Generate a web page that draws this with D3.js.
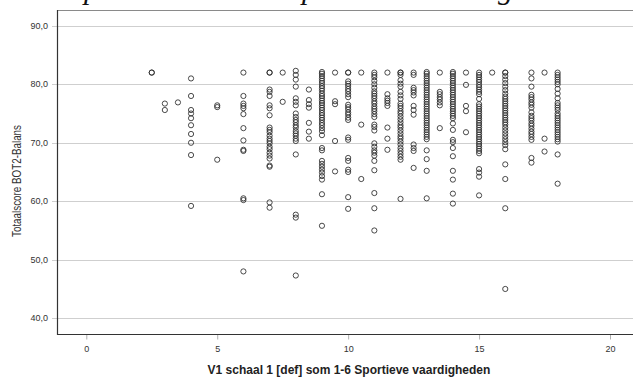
<!DOCTYPE html>
<html>
<head>
<meta charset="utf-8">
<script src="https://cdnjs.cloudflare.com/ajax/libs/d3/7.8.5/d3.min.js"></script>
<style>
  html, body { margin: 0; padding: 0; background: #fff; }
  svg { display: block; }
</style>
</head>
<body>
<div id="chart"></div>
<script>
// V1 schaal 1 values (x) and the BOT2 totals (y)
var v1Levels = [2.5, 3, 3.5, 4, 5, 6, 7, 7.5, 8, 8.5, 9, 9.5, 10, 10.5, 11, 11.5,
                12, 12.5, 13, 13.5, 14, 14.5, 15, 15.5, 16, 17, 17.5, 18];

var bot2Scores = [
  [82.0, 82.0],
  [76.7, 75.6],
  [76.9],
  [81.0, 78.0, 75.6, 75.0, 74.2, 73.0, 71.5, 70.0, 67.9, 59.2],
  [76.4, 76.1, 67.1],
  [82.0, 78.0, 76.7, 76.3, 75.9, 74.9, 72.5, 70.4, 68.8, 68.6, 60.5, 60.2, 48.0],
  [82.0, 82.0, 79.1, 78.7, 78.0, 76.4, 75.9, 74.7, 72.6, 72.2, 71.8, 71.2, 70.7, 70.3,
   69.9, 69.3, 68.9, 68.3, 67.8, 67.3, 66.1, 65.9, 59.8, 58.9],
  [82.0, 77.0],
  [82.3, 81.6, 80.8, 79.6, 77.6, 77.0, 76.4, 75.0, 74.4, 73.9, 73.5, 73.0, 72.6, 72.0,
   71.6, 71.2, 70.7, 70.3, 68.0, 57.7, 57.2, 47.3],
  [79.1, 77.3, 76.6, 76.0, 73.4, 71.9, 70.7],
  [82.1, 81.8, 81.4, 81.0, 80.6, 80.2, 79.7, 79.3, 78.9, 78.4, 78.0, 77.6, 77.2, 76.8,
   76.4, 76.0, 75.6, 75.1, 74.7, 74.3, 73.9, 73.4, 73.0, 72.5, 72.0, 71.3, 69.1, 68.7,
   66.9, 66.4, 65.9, 65.4, 64.9, 64.3, 63.7, 61.2, 55.8],
  [82.0, 77.1, 76.6, 70.3, 65.1],
  [82.0, 82.0, 80.5, 80.1, 79.7, 79.2, 78.8, 78.3, 77.8, 76.5, 76.1, 75.7, 75.2, 74.8,
   74.3, 73.9, 70.9, 70.5, 67.4, 66.9, 65.4, 65.0, 60.7, 58.7],
  [82.0, 73.1, 63.8],
  [82.0, 81.6, 81.2, 80.6, 80.0, 79.4, 78.8, 78.4, 78.0, 77.6, 77.1, 76.7, 76.2, 75.8,
   75.4, 74.9, 74.4, 73.1, 72.7, 72.1, 69.9, 69.3, 68.7, 68.3, 67.8, 66.9, 65.3, 61.4,
   58.8, 55.0],
  [82.0, 78.3, 77.6, 77.2, 76.8, 76.3, 72.6, 70.7, 68.8],
  [82.0, 82.0, 81.6, 80.7, 80.1, 79.6, 78.7, 78.1, 77.5, 76.7, 76.3, 75.9, 75.4, 75.0,
   74.5, 74.0, 73.5, 73.0, 72.6, 72.1, 71.6, 71.1, 70.7, 70.2, 69.7, 69.1, 68.6, 68.1,
   67.6, 67.1, 60.4],
  [82.0, 81.6, 79.4, 79.0, 78.6, 78.1, 76.3, 75.6, 74.8, 69.7, 69.1, 68.6, 65.7],
  [82.1, 81.8, 81.4, 81.0, 80.6, 80.2, 79.8, 79.4, 79.0, 78.6, 78.2, 77.8, 77.4, 77.0,
   76.6, 76.2, 75.8, 75.4, 75.0, 74.6, 74.2, 73.8, 73.4, 73.0, 72.6, 72.2, 71.8, 71.4,
   71.0, 70.6, 68.7, 67.2, 65.2, 60.5],
  [82.0, 78.7, 78.3, 77.8, 77.4, 76.9, 76.4, 72.5],
  [82.1, 81.8, 81.4, 81.0, 80.6, 80.2, 79.8, 79.4, 79.0, 78.6, 78.2, 77.8, 77.4, 77.0,
   76.6, 76.2, 75.8, 75.4, 75.0, 74.6, 74.2, 73.3, 72.2, 70.5, 70.1, 69.1, 67.7, 65.2,
   63.7, 61.3, 59.6],
  [82.0, 79.9, 76.3, 75.4, 71.8],
  [82.0, 81.6, 81.2, 80.8, 80.4, 79.9, 79.5, 79.1, 78.7, 78.3, 77.5, 76.6, 76.2, 75.8,
   75.4, 75.0, 74.6, 74.2, 73.8, 73.4, 73.0, 72.6, 72.2, 71.8, 71.4, 71.0, 70.6, 70.2,
   69.8, 69.4, 69.0, 68.6, 68.2, 65.5, 64.9, 64.2, 61.0],
  [82.0],
  [82.0, 82.0, 81.4, 80.8, 80.2, 79.6, 79.0, 78.4, 77.9, 77.5, 77.1, 76.7, 76.3, 75.9,
   75.5, 75.1, 74.7, 74.3, 73.9, 73.5, 73.1, 72.6, 72.1, 71.6, 71.1, 70.6, 70.1, 69.6,
   68.9, 66.3, 63.8, 58.8, 45.0],
  [82.0, 81.0, 79.6, 78.2, 77.8, 77.4, 76.9, 76.5, 76.0, 75.2, 74.6, 74.2, 73.8, 73.3,
   72.9, 72.4, 71.9, 71.5, 71.0, 70.5, 67.4, 66.6],
  [82.0, 70.7, 68.5],
  [82.0, 81.6, 81.2, 80.8, 80.4, 80.0, 79.2, 78.4, 77.6, 76.8, 76.4, 76.0, 75.6, 75.0,
   74.6, 74.2, 73.8, 73.4, 73.0, 72.6, 72.2, 71.8, 71.4, 71.0, 70.6, 70.2, 68.0, 63.0]
];

var xTicks = [0, 5, 10, 15, 20];
var yTicks = [40, 50, 60, 70, 80, 90];
var xTitle = "V1 schaal 1 [def] som 1-6 Sportieve vaardigheden";
var yTitle = "Totaalscore BOT2-Balans";

var W = 633, H = 378;
var frame = { left: 57, right: 640, top: 10, bottom: 334 };

var svg = d3.select("#chart").append("svg")
    .attr("width", W)
    .attr("height", H);

var x = d3.scaleLinear().domain([0, 20]).range([86.3, 610]);
var y = d3.scaleLinear().domain([40, 90]).range([318.2, 25.8]);

// bits of the page heading that are cut off at the top
svg.append("g")
    .selectAll("text.head")
    .data([{ t: "p", x: 84 }, { t: "p", x: 302 }, { t: "g", x: 498 }])
    .enter().append("text")
    .attr("class", "head")
    .attr("x", function (d) { return d.x; })
    .attr("y", -1)
    .attr("font-family", "Liberation Serif, serif")
    .attr("font-style", "italic")
    .attr("font-size", 30)
    .attr("fill", "#111")
    .text(function (d) { return d.t; });

// grid lines
svg.append("g")
    .selectAll("line.grid")
    .data(yTicks)
    .enter().append("line")
    .attr("class", "grid")
    .attr("x1", frame.left - 5)
    .attr("x2", frame.right)
    .attr("y1", function (d) { return Math.round(y(d)) + 0.5; })
    .attr("y2", function (d) { return Math.round(y(d)) + 0.5; })
    .attr("stroke", "#cfcfcf")
    .attr("stroke-width", 1);

// frame
svg.append("line")
    .attr("x1", frame.left).attr("x2", frame.right)
    .attr("y1", frame.top + 0.5).attr("y2", frame.top + 0.5)
    .attr("stroke", "#8a8a8a").attr("stroke-width", 1);

// x axis
var xAxis = d3.axisBottom(x)
    .tickValues(xTicks)
    .tickSize(5)
    .tickSizeOuter(0)
    .tickPadding(6)
    .tickFormat(d3.format("d"));

var gx = svg.append("g")
    .attr("transform", "translate(0," + (frame.bottom + 0.5) + ")")
    .call(xAxis);
gx.select(".domain").remove();
gx.selectAll(".tick line").attr("stroke", "#b0b0b0");
gx.selectAll(".tick text")
    .attr("font-family", "Liberation Sans, Arial, sans-serif")
    .attr("font-size", 9)
    .attr("fill", "#333");

// y labels
var yFmt = function (d) { return d3.format(".1f")(d).replace(".", ","); };
svg.append("g")
    .selectAll("text.ylab")
    .data(yTicks)
    .enter().append("text")
    .attr("class", "ylab")
    .attr("x", 48)
    .attr("y", function (d) { return y(d); })
    .attr("dy", "0.35em")
    .attr("text-anchor", "end")
    .attr("font-family", "Liberation Sans, Arial, sans-serif")
    .attr("font-size", 9)
    .attr("fill", "#333")
    .text(yFmt);

svg.append("line")
    .attr("x1", frame.left + 0.5).attr("x2", frame.left + 0.5)
    .attr("y1", frame.top).attr("y2", frame.bottom + 1)
    .attr("stroke", "#333").attr("stroke-width", 1.2);
svg.append("line")
    .attr("x1", frame.left).attr("x2", frame.right)
    .attr("y1", frame.bottom + 0.5).attr("y2", frame.bottom + 0.5)
    .attr("stroke", "#333").attr("stroke-width", 1.2);

// points
var pts = [];
v1Levels.forEach(function (v, i) {
    bot2Scores[i].forEach(function (s) { pts.push({ v1: v, bot2: s }); });
});

svg.append("g")
    .selectAll("circle")
    .data(pts)
    .enter().append("circle")
    .attr("cx", function (d) { return x(d.v1); })
    .attr("cy", function (d) { return y(d.bot2); })
    .attr("r", 2.6)
    .attr("fill", "none")
    .attr("stroke", "#2a2a2a")
    .attr("stroke-opacity", 0.85)
    .attr("stroke-width", 1);

// axis titles
svg.append("text")
    .attr("x", 349)
    .attr("y", 374)
    .attr("text-anchor", "middle")
    .attr("font-family", "Liberation Sans, Arial, sans-serif")
    .attr("font-size", 12)
    .attr("font-weight", "bold")
    .attr("fill", "#222")
    .text(xTitle);

svg.append("text")
    .attr("transform", "translate(20.5,181) rotate(-90)")
    .attr("text-anchor", "middle")
    .attr("font-family", "Liberation Sans, Arial, sans-serif")
    .attr("font-size", 12)
    .attr("textLength", 112)
    .attr("lengthAdjust", "spacingAndGlyphs")
    .attr("fill", "#333")
    .text(yTitle);
</script>
</body>
</html>
